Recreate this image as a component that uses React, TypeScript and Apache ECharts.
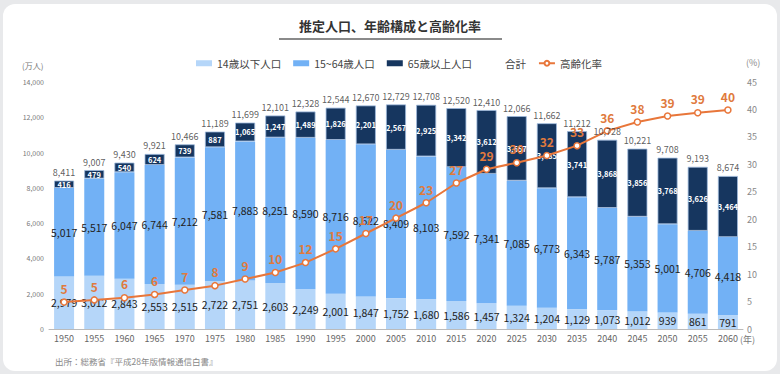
import React, { useEffect, useRef } from "react";
import * as echarts from "echarts";

const years = ["1950","1955","1960","1965","1970","1975","1980","1985","1990","1995","2000","2005","2010","2015","2020","2025","2030","2035","2040","2045","2050","2055","2060"];
const young = [2979,3012,2843,2553,2515,2722,2751,2603,2249,2001,1847,1752,1680,1586,1457,1324,1204,1129,1073,1012,939,861,791];
const working = [5017,5517,6047,6744,7212,7581,7883,8251,8590,8716,8622,8409,8103,7592,7341,7085,6773,6343,5787,5353,5001,4706,4418];
const elderly = [416,479,540,624,739,887,1065,1247,1489,1826,2201,2567,2925,3342,3612,3657,3685,3741,3868,3856,3768,3626,3464];
const totals = [8411,9007,9430,9921,10466,11189,11699,12101,12328,12544,12670,12729,12708,12520,12410,12066,11662,11212,10728,10221,9708,9193,8674];
const agingRate = [4.9,5.3,5.7,6.3,7.1,7.9,9.1,10.3,12.1,14.6,17.4,20.2,23.0,26.6,29.1,30.3,31.6,33.4,36.1,37.7,38.8,39.4,39.9];

const FONT = "'Noto Sans CJK JP', 'Noto Sans', sans-serif";
const fmt = (v: number) => v.toLocaleString("en-US");

export default function App() {
  const ref = useRef<HTMLDivElement>(null);
  useEffect(() => {
    document.body.style.margin = "0";
    if (!ref.current) return;
    const chart = echarts.init(ref.current, null, { renderer: "svg" });
    chart.setOption({
      animation: false,
      textStyle: { fontFamily: FONT },
      title: {
        text: "推定人口、年齢構成と高齢化率",
        left: "center",
        top: 14,
        textStyle: { fontSize: 13, fontWeight: "bold", color: "#333", fontFamily: FONT },
      },
      graphic: [
        { type: "line", shape: { x1: 279, y1: 39, x2: 502, y2: 39 }, style: { stroke: "#8a8a8a", lineWidth: 2 } },
        { type: "text", left: 22, top: 61, style: { text: "(万人)", fontSize: 8, fill: "#777", fontFamily: FONT } },
        { type: "text", left: 746, top: 58, style: { text: "(%)", fontSize: 9, fill: "#888", fontFamily: FONT } },
        { type: "text", left: 740, top: 335, style: { text: "(年)", fontSize: 9, fill: "#777", fontFamily: FONT } },
        { type: "text", left: 55, top: 357, style: { text: "出所：総務省『平成28年版情報通信白書』", fontSize: 8.5, fill: "#888", fontFamily: FONT } },
      ],
      legend: {
        left: 191,
        top: 53,
        itemWidth: 16,
        itemHeight: 6,
        itemGap: 12,
        textStyle: { fontSize: 10.5, color: "#444", fontFamily: FONT },
        data: [
          { name: "14歳以下人口", icon: "rect" },
          { name: "15~64歳人口", icon: "rect" },
          { name: "65歳以上人口", icon: "rect", itemStyle: { borderWidth: 0 } },
          { name: "合計", icon: "rect", itemStyle: { color: "rgba(0,0,0,0)" } },
          { name: "高齢化率" },
        ],
      },
      grid: { left: 49, right: 37, top: 82, bottom: 45 },
      xAxis: {
        type: "category",
        data: years,
        axisLine: { lineStyle: { color: "#bbb", width: 1 } },
        axisTick: { show: false },
        axisLabel: { fontSize: 9, color: "#666", margin: 5 },
      },
      yAxis: [
        {
          type: "value",
          min: 0,
          max: 14000,
          interval: 2000,
          splitLine: { show: false },
          axisLine: { show: false },
          axisTick: { show: false },
          axisLabel: { fontSize: 7, color: "#777", formatter: (v: number) => fmt(v), margin: 5 },
        },
        {
          type: "value",
          min: 0,
          max: 45,
          interval: 5,
          splitLine: { show: false },
          axisLine: { show: false },
          axisTick: { show: false },
          axisLabel: { fontSize: 9, color: "#888", margin: 4 },
        },
      ],
      series: [
        {
          name: "14歳以下人口",
          type: "bar",
          stack: "pop",
          barWidth: 20,
          data: young,
          itemStyle: { color: "#b5d6f9" },
          label: { show: true, position: "inside", formatter: (p: any) => fmt(p.value), fontSize: 10.5, color: "#222" },
        },
        {
          name: "15~64歳人口",
          type: "bar",
          stack: "pop",
          data: working,
          itemStyle: { color: "#72b1f5" },
          label: { show: true, position: "inside", formatter: (p: any) => fmt(p.value), fontSize: 10.5, color: "#222" },
        },
        {
          name: "65歳以上人口",
          type: "bar",
          stack: "pop",
          data: elderly,
          itemStyle: { color: "#16365f", borderColor: "#9db9dc", borderWidth: 0.8 },
          label: { show: true, position: "inside", formatter: (p: any) => fmt(p.value), fontSize: 7.5, fontWeight: "bold", color: "#fff" },
        },
        {
          name: "合計",
          type: "scatter",
          data: totals,
          symbolSize: 1,
          itemStyle: { color: "rgba(0,0,0,0)" },
          label: { show: true, position: "top", distance: 3, formatter: (p: any) => fmt(p.value), fontSize: 9, color: "#333" },
          z: 5,
        },
        {
          name: "高齢化率",
          type: "line",
          yAxisIndex: 1,
          data: agingRate,
          symbol: "circle",
          symbolSize: 6,
          lineStyle: { color: "#e8763a", width: 2 },
          itemStyle: { color: "#fff", borderColor: "#e8763a", borderWidth: 1.5 },
          label: { show: true, position: "top", distance: 4, formatter: (p: any) => String(Math.round(p.value)), fontSize: 12, fontWeight: "bold", color: "#e07a3d" },
          z: 4,
        },
      ],
    });
    return () => chart.dispose();
  }, []);
  return (
    <div style={{ position: "relative", width: 780, height: 374, background: "#e8e9eb", overflow: "hidden" }}>
      <div style={{ position: "absolute", left: 3, top: 4, width: 774, height: 367, background: "#fff", borderRadius: 12 }} />
      <div ref={ref} style={{ position: "absolute", left: 0, top: 0, width: 780, height: 374 }} />
    </div>
  );
}
